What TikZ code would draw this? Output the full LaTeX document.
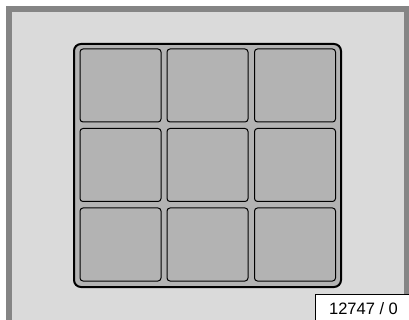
\documentclass[tikz,border=0pt]{standalone}
\usepackage{fontspec}
\setmainfont{Liberation Sans}
\definecolor{framegray}{HTML}{858585}
\definecolor{panelgray}{HTML}{DADADA}
\definecolor{boxgray}{HTML}{B3B3B3}
\begin{document}
\begin{tikzpicture}[x=1pt, y=-1pt,
		cell/.style = {draw = black, fill = boxgray, line width = 1pt, rounded corners = 3pt,
			minimum width = 81pt, minimum height = 73pt, inner sep = 0pt}]
	\useasboundingbox (0,0) rectangle (409,320);
	\begin{scope}
		\clip (0,0) rectangle (409,320);
		\draw[line width = 6pt, color = framegray, fill = panelgray] (9,9) rectangle (406.5,330);
	\end{scope}
	\draw[line width = 2pt, fill = boxgray, rounded corners = 7pt] (74,44) rectangle (341,287);
	\foreach \c [count = \i] in {120.5, 207.5, 295}
		\foreach \r [count = \j] in {85.5, 165, 244.5}
			\node[cell] (cell-\j-\i) at (\c,\r) {};
	\node[draw = black, fill = white, line width = 1pt, anchor = north west,
		minimum width = 96pt, minimum height = 29pt, font = \fontsize{16.5}{19}\selectfont]
		(label) at (315,293.5) {12747 / 0};
\end{tikzpicture}
\end{document}
